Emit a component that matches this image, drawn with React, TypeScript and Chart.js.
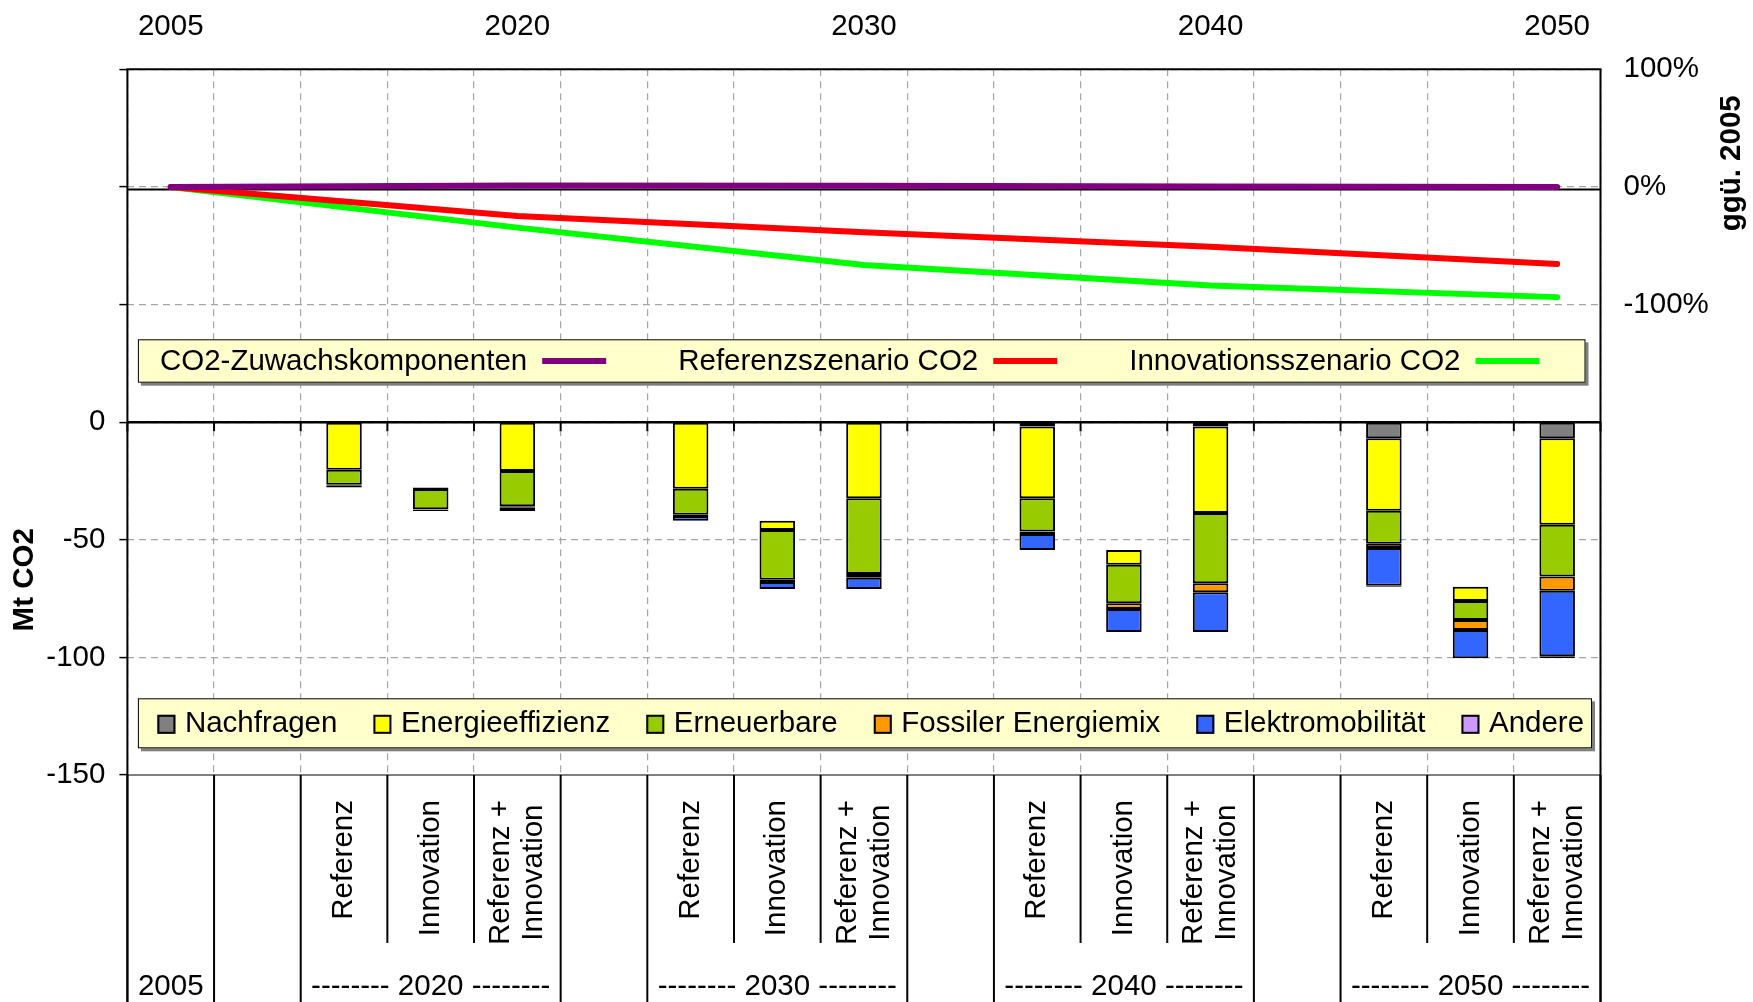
import React, { useEffect, useRef } from 'react';
import { Chart, registerables } from 'chart.js';

Chart.register(...registerables);

const FONT = "'Liberation Sans', Arial, Helvetica, sans-serif";
const FS = 29.5;

// ---------- categories & labels ----------
const categories = [
  '2005', 'Lücke 2020', 'Referenz 2020', 'Innovation 2020', 'Referenz + Innovation 2020',
  'Lücke 2030', 'Referenz 2030', 'Innovation 2030', 'Referenz + Innovation 2030',
  'Lücke 2040', 'Referenz 2040', 'Innovation 2040', 'Referenz + Innovation 2040',
  'Lücke 2050', 'Referenz 2050', 'Innovation 2050', 'Referenz + Innovation 2050',
];
const topYearLabels = ['2005', '', '', '', '2020', '', '', '', '2030', '', '', '', '2040', '', '', '', '2050'];
const scenarioLabels: string[][] = [
  [], [], ['Referenz'], ['Innovation'], ['Referenz +', 'Innovation'],
  [], ['Referenz'], ['Innovation'], ['Referenz +', 'Innovation'],
  [], ['Referenz'], ['Innovation'], ['Referenz +', 'Innovation'],
  [], ['Referenz'], ['Innovation'], ['Referenz +', 'Innovation'],
];
const categoryGroup = [0, 1, 2, 2, 2, 3, 4, 4, 4, 5, 6, 6, 6, 7, 8, 8, 8];
const groupLabels = ['2005', '', '-------- 2020 --------', '', '-------- 2030 --------', '', '-------- 2040 --------', '', '-------- 2050 --------'];

// ---------- axis ranges ----------
const mtMin = -150;
const mtMax = 150;
const mtStep = 50;
const pctMin = -500;
const pctMax = 100;
const pctStep = 100;
const pctLowestLabel = -100;

// ---------- bar series (Mt CO2) ----------
// invisible base: Innovation bars start where the Referenz bar ends
const sockel = [null, null, null, -27.8, null, null, null, -41.9, null, null, null, -54.4, null, null, null, -70.0, null];
const nachfragen = [null, null, null, null, null, null, null, null, null, null, -1.8, null, -1.8, null, -6.8, null, -6.8];
const energieeffizienz = [null, null, -20.2, -0.6, -20.8, null, -28.3, -4.0, -32.3, null, -30.5, -6.2, -36.8, null, -30.9, -6.0, -36.8];
const erneuerbare = [null, null, -6.4, -8.6, -15.0, null, -11.1, -21.1, -32.2, null, -14.2, -16.4, -29.9, null, -14.0, -8.1, -22.0];
const fossilerEnergiemix = [null, null, -0.4, -0.2, -0.6, null, -0.5, -1.0, -1.6, null, -1.0, -2.4, -3.8, null, -1.8, -4.3, -6.1];
const elektromobilitaet = [null, null, -0.8, -0.6, -1.4, null, -2.0, -2.9, -4.8, null, -6.9, -9.8, -16.9, null, -16.0, -12.0, -27.8];
const andere = [null, null, null, null, null, null, null, null, null, null, null, null, null, null, -0.5, null, -0.8];

// ---------- line series (% ggü. 2005) ----------
const co2Zuwachs = [0, null, null, null, 1.2, null, null, null, 0.9, null, null, null, 0.3, null, null, null, 0];
const referenzCO2 = [0, null, null, null, -24.7, null, null, null, -38.5, null, null, null, -50.8, null, null, null, -65.5];
const innovationCO2 = [0, null, null, null, -34.6, null, null, null, -66.3, null, null, null, -83.9, null, null, null, -93.7];

function strokeLine(ctx: CanvasRenderingContext2D, x1: number, y1: number, x2: number, y2: number, color: string, width: number) {
  ctx.beginPath();
  ctx.setLineDash([]);
  ctx.strokeStyle = color;
  ctx.lineWidth = width;
  ctx.lineCap = 'butt';
  ctx.moveTo(x1, y1);
  ctx.lineTo(x2, y2);
  ctx.stroke();
}

function boundaries(xScale: any, n: number, area: any): number[] {
  const b = [area.left];
  for (let i = 0; i < n - 1; i++) b.push((xScale.getPixelForValue(i) + xScale.getPixelForValue(i + 1)) / 2);
  b.push(area.right);
  return b;
}

function drawLegendBox(ctx: CanvasRenderingContext2D, l: number, t: number, r: number, b: number) {
  ctx.fillStyle = '#808080';
  ctx.fillRect(l + 3, t + 3, r - l, b - t);
  ctx.fillStyle = '#FFFFCC';
  ctx.fillRect(l, t, r - l, b - t);
  ctx.strokeStyle = '#000';
  ctx.lineWidth = 1;
  ctx.setLineDash([]);
  ctx.strokeRect(l + 0.5, t + 0.5, r - l - 1, b - t - 1);
}

const decorPlugin = {
  id: 'decor',
  beforeDatasetsDraw(chart: any) {
    const { ctx, chartArea: a, scales } = chart;
    ctx.save();
    const y0 = scales.y.getPixelForValue(0);
    strokeLine(ctx, a.left, y0, a.right, y0, '#000', 2.5);
    const bx = boundaries(scales.x, categories.length, a);
    for (const x of bx) strokeLine(ctx, x, y0, x, y0 + 9, '#000', 2);
    const p0 = scales.yR.getPixelForValue(0) + 2.5;
    strokeLine(ctx, a.left, p0, a.right, p0, '#000', 2);
    ctx.restore();
  },
  afterDraw(chart: any) {
    const { ctx, chartArea: a, scales, height } = chart;
    const xs = scales.x;
    ctx.save();

    // frame
    strokeLine(ctx, a.left, a.bottom, a.right, a.bottom, '#808080', 2);
    strokeLine(ctx, a.left - 1, a.top, a.right + 1, a.top, '#000', 2);
    strokeLine(ctx, a.left, a.top, a.left, height, '#000', 2);
    strokeLine(ctx, a.right, a.top, a.right, height, '#000', 2);

    // ----- legend of lines -----
    const datasets = chart.data.datasets;
    ctx.font = `${FS}px ${FONT}`;
    ctx.textBaseline = 'middle';
    ctx.textAlign = 'left';
    {
      const l = a.left + 10.5, r = a.right - 15, t = a.top + 270, b = a.top + 313.4;
      drawLegendBox(ctx, l, t, r, b);
      const cy = (t + b) / 2;
      let cx = l + 22;
      for (const d of datasets.filter((d: any) => d.type === 'line')) {
        ctx.fillStyle = '#000';
        ctx.fillText(d.label, cx, cy + 1);
        cx += ctx.measureText(d.label).width + 15;
        strokeLine(ctx, cx, cy, cx + 64, cy, d.borderColor, 6);
        cx += 64 + 72;
      }
    }
    // ----- legend of bars -----
    {
      const l = a.left + 10.5, r = a.right - 8.5, t = a.top + 629, b = a.top + 679;
      drawLegendBox(ctx, l, t, r, b);
      const cy = (t + b) / 2 + 1;
      let cx = l + 19.5;
      ctx.font = `${FS}px ${FONT}`;
      for (const d of datasets.filter((d: any) => d.type !== 'line' && d.inLegend)) {
        ctx.fillStyle = d.backgroundColor;
        ctx.fillRect(cx, cy - 9.5, 18, 19);
        ctx.strokeStyle = '#000';
        ctx.lineWidth = 2;
        ctx.strokeRect(cx + 1, cy - 9.5 + 1, 16, 17);
        cx += 18 + 9.5;
        ctx.fillStyle = '#000';
        ctx.fillText(d.label, cx, cy);
        cx += ctx.measureText(d.label).width + 36;
      }
    }

    // ----- category table below the plot -----
    const bx = boundaries(xs, categories.length, a);
    for (let i = 0; i < bx.length; i++) {
      const full = i === 0 || i === bx.length - 1 || categoryGroup[i - 1] !== categoryGroup[i];
      strokeLine(ctx, bx[i], a.bottom, bx[i], full ? height : a.bottom + 168, '#000', 2);
    }
    ctx.fillStyle = '#000';
    ctx.font = `${FS}px ${FONT}`;
    const lineH = 33;
    scenarioLabels.forEach((lines, i) => {
      if (!lines.length) return;
      const cxp = xs.getPixelForValue(i);
      const L = Math.max(...lines.map((s) => ctx.measureText(s).width));
      const yc = a.bottom + 25 + L / 2;
      lines.forEach((s, j) => {
        ctx.save();
        ctx.translate(cxp + (j - (lines.length - 1) / 2) * lineH, yc);
        ctx.rotate(-Math.PI / 2);
        ctx.textAlign = 'center';
        ctx.textBaseline = 'middle';
        ctx.fillText(s, 0, 0);
        ctx.restore();
      });
    });
    groupLabels.forEach((g, gi) => {
      if (!g) return;
      const idx = categoryGroup.map((v, i) => (v === gi ? i : -1)).filter((i) => i >= 0);
      const cxp = (xs.getPixelForValue(idx[0]) + xs.getPixelForValue(idx[idx.length - 1])) / 2;
      ctx.textAlign = 'center';
      ctx.textBaseline = 'middle';
      ctx.fillText(g, cxp, a.bottom + 212);
    });

    // ----- axis titles -----
    ctx.font = `bold ${FS}px ${FONT}`;
    ctx.textAlign = 'center';
    ctx.textBaseline = 'middle';
    ctx.save();
    ctx.translate(a.left - 102.5, a.top + 510.5);
    ctx.rotate(-Math.PI / 2);
    ctx.fillText('Mt CO2', 0, 0);
    ctx.restore();
    ctx.save();
    ctx.translate(a.right + 131.5, a.top + 94);
    ctx.rotate(-Math.PI / 2);
    ctx.fillText('ggü. 2005', 0, 0);
    ctx.restore();

    ctx.restore();
  },
};

function barSet(label: string, data: (number | null)[], color: string, inLegend = true) {
  return {
    type: 'bar' as const,
    label,
    data,
    backgroundColor: color,
    borderColor: inLegend ? '#000' : 'rgba(0,0,0,0)',
    borderWidth: inLegend ? 2 : 0,
    borderSkipped: false,
    barPercentage: 0.41,
    categoryPercentage: 1,
    yAxisID: 'y',
    inLegend,
    order: 2,
  };
}

function lineSet(label: string, data: (number | null)[], color: string) {
  return {
    type: 'line' as const,
    label,
    data,
    borderColor: color,
    backgroundColor: color,
    borderWidth: 6,
    pointRadius: 0,
    spanGaps: true,
    tension: 0,
    borderCapStyle: 'round',
    borderJoinStyle: 'round',
    yAxisID: 'yR',
    order: 1,
  };
}

export default function App() {
  const ref = useRef<HTMLCanvasElement | null>(null);
  useEffect(() => {
    if (!ref.current) return;
    Chart.defaults.font.family = FONT;
    Chart.defaults.color = '#000';
    const chart = new Chart(ref.current, {
      type: 'bar',
      data: {
        labels: categories,
        datasets: [
          barSet('Sockel', sockel, 'rgba(0,0,0,0)', false),
          barSet('Nachfragen', nachfragen, '#808080'),
          barSet('Energieeffizienz', energieeffizienz, '#FFFF00'),
          barSet('Erneuerbare', erneuerbare, '#99CC00'),
          barSet('Fossiler Energiemix', fossilerEnergiemix, '#FF9900'),
          barSet('Elektromobilität', elektromobilitaet, '#3366FF'),
          barSet('Andere', andere, '#CC99FF'),
          lineSet('CO2-Zuwachskomponenten', co2Zuwachs, '#800080'),
          lineSet('Referenzszenario CO2', referenzCO2, '#FF0000'),
          lineSet('Innovationsszenario CO2', innovationCO2, '#00FF00'),
        ] as any,
      },
      options: {
        responsive: false,
        devicePixelRatio: 1,
        animation: false,
        layout: { padding: 0 },
        plugins: { legend: { display: false }, tooltip: { enabled: false } },
        scales: {
          x: {
            type: 'category',
            position: 'bottom',
            stacked: true,
            offset: true,
            grid: { offset: true, color: '#a6a6a6', lineWidth: 1.2, drawTicks: false },
            border: { display: false, dash: [7, 5] },
            ticks: { display: false },
            afterFit: (s: any) => { s.height = 227; },
          },
          x2: {
            type: 'category',
            position: 'top',
            labels: topYearLabels,
            offset: true,
            grid: { display: false, drawTicks: false },
            border: { display: false },
            ticks: { autoSkip: false, maxRotation: 0, minRotation: 0, padding: 25, font: { size: FS, family: FONT }, color: '#000' },
            afterFit: (s: any) => { s.height = 69.3; },
          },
          y: {
            type: 'linear',
            position: 'left',
            stacked: true,
            min: mtMin,
            max: mtMax,
            ticks: {
              stepSize: mtStep,
              padding: 14,
              font: { size: FS, family: FONT },
              color: '#000',
              callback: (v: any) => (Number(v) <= 0 ? String(v) : ''),
            },
            grid: { color: '#a6a6a6', lineWidth: 1.2, tickColor: '#000', tickWidth: 1.5, tickLength: 8 },
            border: { display: false, dash: [7, 5] },
            afterFit: (s: any) => { s.width = 127.4; },
          },
          yR: {
            type: 'linear',
            position: 'right',
            stacked: false,
            min: pctMin,
            max: pctMax,
            ticks: {
              stepSize: pctStep,
              padding: 23,
              font: { size: FS, family: FONT },
              color: '#000',
              callback: (v: any) => (Number(v) >= pctLowestLabel ? `${v}%` : ''),
            },
            grid: { display: false, drawOnChartArea: false, drawTicks: false },
            border: { display: false },
            afterFit: (s: any) => { s.width = 152.5; },
          },
        },
      } as any,
      plugins: [decorPlugin],
    });
    return () => chart.destroy();
  }, []);

  return (
    <div style={{ position: 'fixed', left: 0, top: 0, width: 1753, height: 1002, background: '#fff' }}>
      <canvas ref={ref} width={1753} height={1002} style={{ width: 1753, height: 1002, display: 'block' }} />
    </div>
  );
}
